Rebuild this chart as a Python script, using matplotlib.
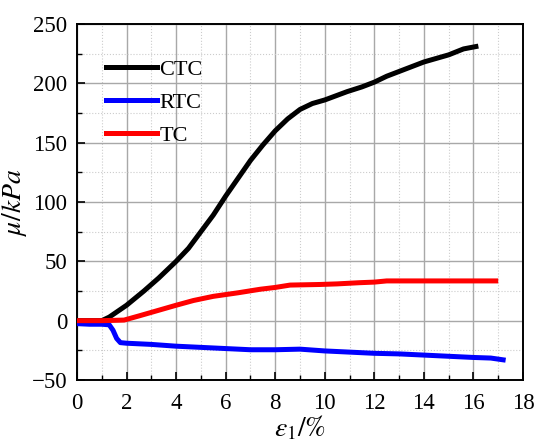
"""Deviatoric stress vs axial strain for CTC, RTC and TC paths."""

import matplotlib
matplotlib.use("Agg")
import matplotlib.pyplot as plt
from matplotlib.ticker import MultipleLocator

plt.rcParams["font.family"] = ["Liberation Serif", "DejaVu Serif"]
plt.rcParams["mathtext.fontset"] = "stix"

ctc_strain = [0, 0.5, 1.0, 1.3, 2.0, 2.7, 3.3, 4.0, 4.5, 5.0, 5.5, 6.0, 6.5, 7.0,
              7.5, 8.0, 8.5, 9.0, 9.5, 10.0, 10.9, 11.5, 12.0, 12.5, 13.0, 14.0,
              15.0, 15.6, 16.1]
ctc_stress = [0, 0, 0, 3, 13, 25, 36, 50, 61, 75, 89, 105, 120, 135,
              148, 160, 170, 178, 183, 186, 193, 197, 201, 206, 210, 218,
              224, 229, 231]

rtc_strain = [0, 0.5, 1.0, 1.3, 1.45, 1.6, 1.75, 2.0, 3.0, 4.0, 5.0, 6.0, 7.0,
              8.0, 9.0, 10.0, 11.0, 12.0, 13.0, 14.0, 15.0, 16.0, 16.7, 17.2]
rtc_stress = [-2.5, -3, -3, -3.5, -8, -15, -18.5, -19, -20, -21.5, -22.5, -23.5,
              -24.5, -24.5, -24, -25.5, -26.5, -27.5, -28, -29, -30, -31, -31.5, -33]

tc_strain = [0, 1.0, 1.9, 2.5, 3.0, 3.5, 4.0, 4.7, 5.5, 6.5, 7.4, 8.0, 8.6, 9.8,
             10.5, 11.4, 12.0, 12.5, 13.5, 15.0, 16.0, 16.9]
tc_stress = [0, 0, 0.5, 4, 7, 10, 13, 17, 20.5, 23.5, 26.5, 28, 30, 30.5,
             31, 32, 32.5, 33.5, 33.5, 33.5, 33.5, 33.5]

fig = plt.figure(figsize=(5.36, 4.43), dpi=100)
ax = fig.add_axes([0.1437, 0.1422, 0.832, 0.8036])

ax.plot(ctc_strain, ctc_stress, color="black", lw=3.6, label="CTC", zorder=3)
ax.plot(rtc_strain, rtc_stress, color="#0000ff", lw=3.6, label="RTC", zorder=3)
ax.plot(tc_strain, tc_stress, color="#ff0000", lw=3.6, label="TC", zorder=4)

ax.set_xlim(0, 18)
ax.set_ylim(-50, 250)
ax.xaxis.set_major_locator(MultipleLocator(2))
ax.xaxis.set_minor_locator(MultipleLocator(1))
ax.yaxis.set_major_locator(MultipleLocator(50))
ax.yaxis.set_minor_locator(MultipleLocator(25))

ax.grid(which="major", color="#a8a8a8", lw=1.0, ls="-", zorder=0)
ax.grid(which="minor", color="#cccccc", lw=0.8, ls=":", zorder=0)
ax.set_axisbelow(True)

ax.tick_params(axis="x", which="major", pad=9)
ax.tick_params(axis="y", which="major", pad=7)
ax.tick_params(which="major", direction="in", length=6, width=1.2, labelsize=16.5)
ax.tick_params(which="minor", direction="in", length=3.5, width=1.0)
for sp in ax.spines.values():
    sp.set_linewidth(1.4)

ax.set_xlabel(r"$\varepsilon_1/\%$", fontsize=20, labelpad=0)
ax.set_ylabel(r"$\mu/kPa$", fontsize=20, labelpad=2)

ax.legend(loc="upper left", bbox_to_anchor=(0.044, 0.925), frameon=False,
          fontsize=16, handlelength=2.3, handletextpad=0.12, labelspacing=0.55,
          borderaxespad=0)

fig.savefig("out.png", dpi=100)
